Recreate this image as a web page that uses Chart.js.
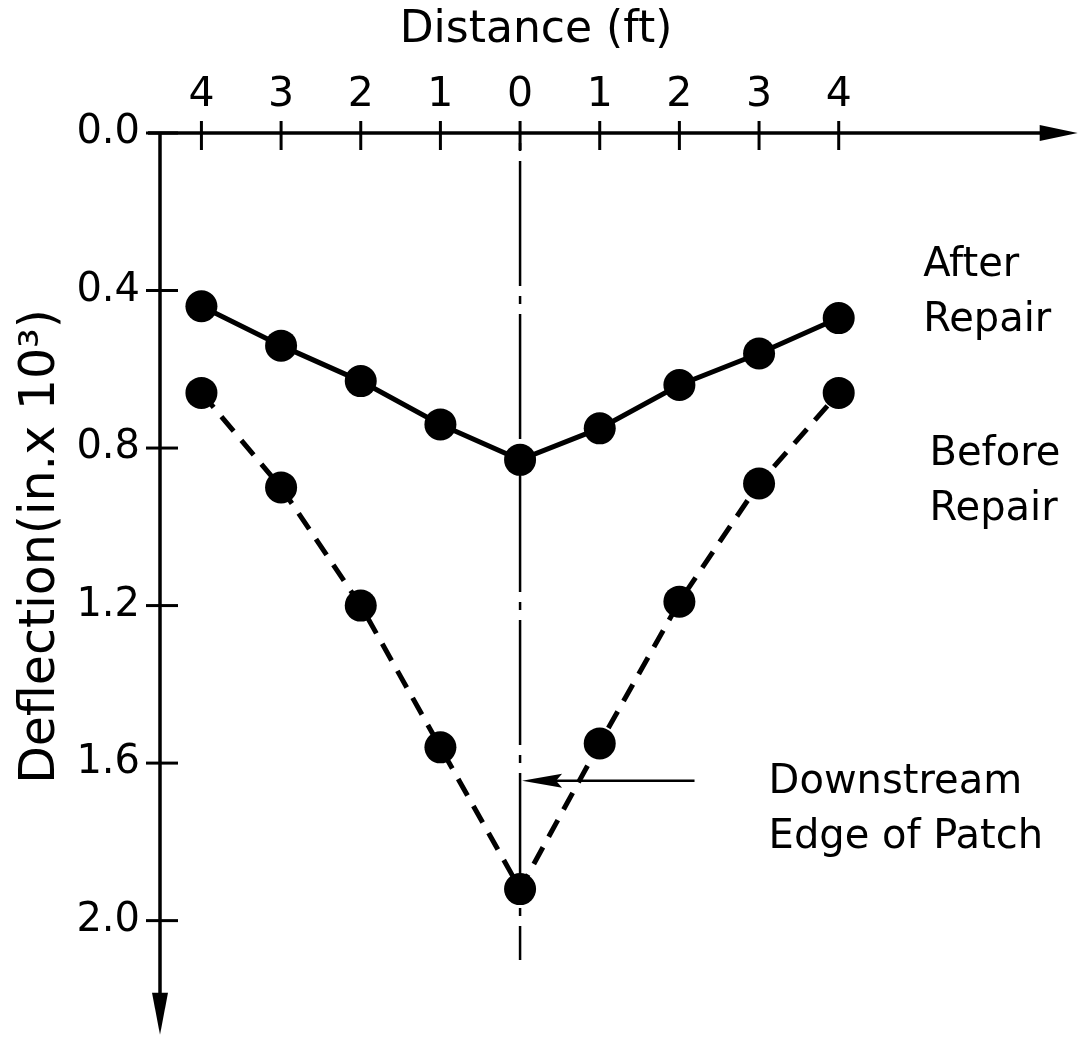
<!DOCTYPE html>
<html>
<head>
<meta charset="utf-8">
<script src="https://cdn.jsdelivr.net/npm/chart.js@4"></script>
<style>
  html, body { margin: 0; padding: 0; background: #fff; }
  #chart { width: 1080px; height: 1037px; }
</style>
</head>
<body>
<div id="chart"><canvas id="miCanva"></canvas></div>
<script>
// distance from the patch edge (ft), left side negative
const distance = [-4, -3, -2, -1, 0, 1, 2, 3, 4];
const afterRepair = [0.44, 0.54, 0.63, 0.74, 0.83, 0.75, 0.64, 0.56, 0.47];
const beforeRepair = [0.66, 0.90, 1.20, 1.56, 1.92, 1.55, 1.19, 0.89, 0.66];
const xTicks = [-4, -3, -2, -1, 0, 1, 2, 3, 4];
const yTicks = [0.0, 0.4, 0.8, 1.2, 1.6, 2.0];

const FONT = '"DejaVu Sans", sans-serif';

const toPoints = (vals) => distance.map((d, i) => ({ x: d, y: vals[i] }));

// axes with arrows, crossing ticks, centre line and notes
const decor = {
  id: "decor",
  beforeDatasetsDraw(chart) {
    const { ctx } = chart;
    const x = chart.scales.x;
    const y = chart.scales.y;
    const axisY = y.getPixelForValue(0);
    const axisX = x.left;
    ctx.save();
    ctx.strokeStyle = "#000";
    ctx.fillStyle = "#000";
    ctx.lineWidth = 3.5;

    // horizontal axis + arrow
    const xEnd = x.getPixelForValue(7.0);
    ctx.beginPath();
    ctx.moveTo(axisX - 12, axisY);
    ctx.lineTo(xEnd - 30, axisY);
    ctx.stroke();
    ctx.beginPath();
    ctx.moveTo(xEnd, axisY);
    ctx.lineTo(xEnd - 38, axisY - 8);
    ctx.lineTo(xEnd - 38, axisY + 8);
    ctx.closePath();
    ctx.fill();

    // vertical axis + arrow
    const yEnd = y.getPixelForValue(2.29);
    ctx.beginPath();
    ctx.moveTo(axisX, axisY);
    ctx.lineTo(axisX, yEnd - 30);
    ctx.stroke();
    ctx.beginPath();
    ctx.moveTo(axisX, yEnd);
    ctx.lineTo(axisX - 8, yEnd - 42);
    ctx.lineTo(axisX + 8, yEnd - 42);
    ctx.closePath();
    ctx.fill();

    // tick marks crossing the axes
    ctx.lineWidth = 3;
    xTicks.forEach((v) => {
      const px = x.getPixelForValue(v);
      ctx.beginPath();
      ctx.moveTo(px, axisY - 12);
      ctx.lineTo(px, axisY + 17);
      ctx.stroke();
    });
    yTicks.forEach((v) => {
      const py = y.getPixelForValue(v);
      ctx.beginPath();
      ctx.moveTo(axisX - 14, py);
      ctx.lineTo(axisX + 18, py);
      ctx.stroke();
    });

    // dash-dot centre line at distance 0
    const cx = x.getPixelForValue(0);
    ctx.lineWidth = 2.5;
    ctx.setLineDash([125, 10, 8, 10]);
    ctx.lineDashOffset = -28;
    ctx.beginPath();
    ctx.moveTo(cx, axisY);
    ctx.lineTo(cx, y.bottom);
    ctx.stroke();
    ctx.setLineDash([]);

    // arrow to the downstream edge of patch
    const ay = y.getPixelForValue(1.645);
    const tail = x.getPixelForValue(2.19);
    ctx.lineWidth = 2.5;
    ctx.beginPath();
    ctx.moveTo(tail, ay);
    ctx.lineTo(cx + 20, ay);
    ctx.stroke();
    ctx.beginPath();
    ctx.moveTo(cx + 2, ay);
    ctx.lineTo(cx + 42, ay - 7);
    ctx.lineTo(cx + 36, ay);
    ctx.lineTo(cx + 42, ay + 7);
    ctx.closePath();
    ctx.fill();
    ctx.restore();
  },
  afterDraw(chart) {
    const { ctx } = chart;
    const x = chart.scales.x;
    const y = chart.scales.y;
    const notes = [
      { lines: ["After", "Repair"], x: 5.06, y: 0.363 },
      { lines: ["Before", "Repair"], x: 5.14, y: 0.843 },
      { lines: ["Downstream", "Edge of Patch"], x: 3.12, y: 1.675 },
    ];
    ctx.save();
    ctx.fillStyle = "#000";
    ctx.font = "40px " + FONT;
    ctx.textAlign = "left";
    ctx.textBaseline = "alphabetic";
    notes.forEach((n) => {
      const px = x.getPixelForValue(n.x);
      const py = y.getPixelForValue(n.y);
      n.lines.forEach((t, i) => ctx.fillText(t, px, py + i * 55));
    });
    ctx.restore();
  },
};

const canvas = document.getElementById("miCanva");
const ctx = canvas.getContext("2d");

canvas.chart = new Chart(ctx, {
  type: "scatter",
  data: {
    datasets: [
      {
        label: "After Repair",
        data: toPoints(afterRepair),
        showLine: true,
        borderColor: "#000",
        backgroundColor: "#000",
        borderWidth: 5,
        pointRadius: 16,
        pointBorderWidth: 0,
      },
      {
        label: "Before Repair",
        data: toPoints(beforeRepair),
        showLine: true,
        borderColor: "#000",
        backgroundColor: "#000",
        borderWidth: 5,
        borderDash: [19, 12],
        pointRadius: 16,
        pointBorderWidth: 0,
      },
    ],
  },
  options: {
    responsive: true,
    maintainAspectRatio: false,
    animation: false,
    layout: { padding: { left: 0, top: 0, right: 168, bottom: 77 } },
    plugins: {
      legend: { display: false },
      tooltip: { enabled: false },
    },
    scales: {
      x: {
        type: "linear",
        position: "top",
        min: -4.52,
        max: 4.92,
        grid: { display: false, drawTicks: false },
        border: { display: false },
        afterFit: (s) => { s.height = 133; },
        afterBuildTicks: (s) => { s.ticks = xTicks.map((v) => ({ value: v })); },
        ticks: {
          color: "#000",
          padding: 13,
          maxRotation: 0,
          font: { family: FONT, size: 41 },
          callback: (v) => String(Math.abs(v)),
        },
        title: {
          display: true,
          text: "Distance (ft)",
          color: "#000",
          padding: { top: 4, bottom: 0 },
          font: { family: FONT, size: 44 },
        },
      },
      y: {
        type: "linear",
        reverse: true,
        min: 0,
        max: 2.1,
        grid: { display: false, drawTicks: false },
        border: { display: false },
        afterFit: (s) => { s.width = 160; },
        afterBuildTicks: (s) => { s.ticks = yTicks.map((v) => ({ value: v })); },
        ticks: {
          color: "#000",
          padding: 20,
          font: { family: FONT, size: 40 },
          callback: (v) => Number(v).toFixed(1),
        },
        title: {
          display: true,
          text: "Deflection(in.x 10³)",
          color: "#000",
          padding: { top: 12, bottom: 0 },
          font: { family: FONT, size: 49 },
        },
      },
    },
  },
  plugins: [decor],
});
</script>
</body>
</html>
